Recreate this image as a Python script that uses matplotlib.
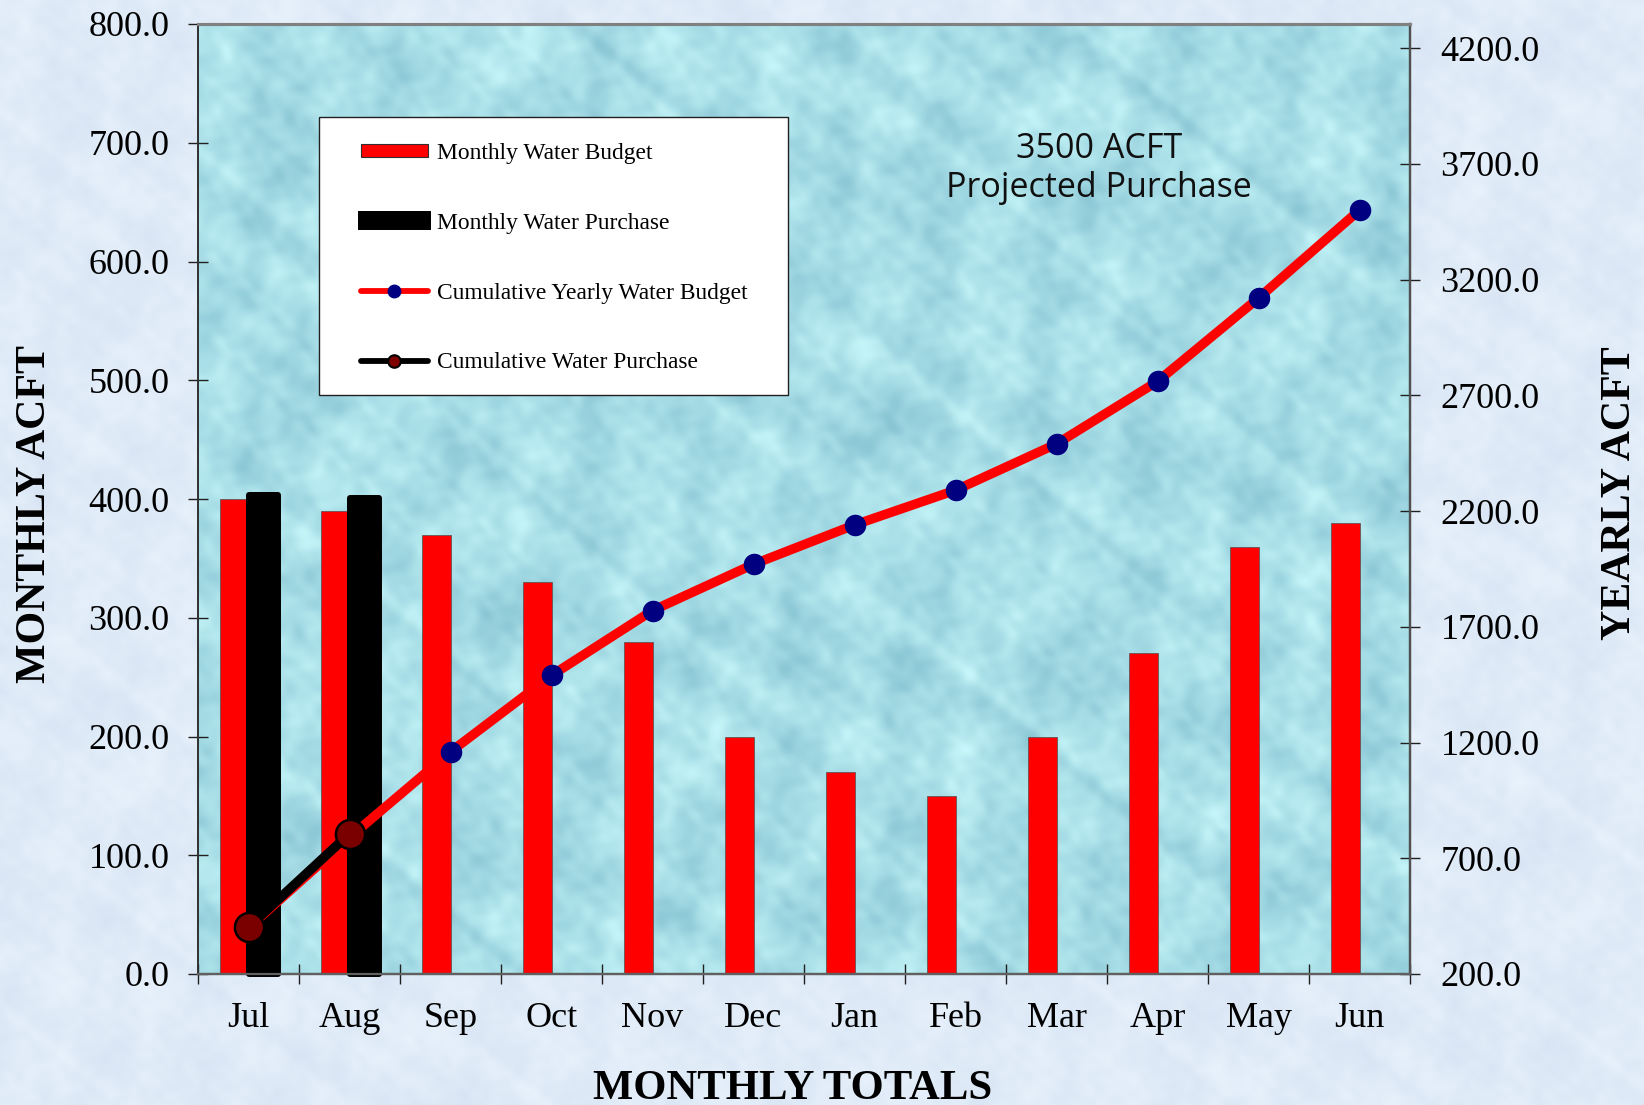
#!/usr/bin/env python3
"""Monthly and cumulative water budget vs purchase."""

import matplotlib
matplotlib.use("Agg")
import matplotlib.pyplot as plt
from matplotlib.lines import Line2D
from matplotlib.patches import Patch, Rectangle
import numpy as np

months = ["Jul", "Aug", "Sep", "Oct", "Nov", "Dec", "Jan", "Feb", "Mar", "Apr", "May", "Jun"]
monthly_budget = [400, 390, 370, 330, 280, 200, 170, 150, 200, 270, 360, 380]
monthly_purchase = [403, 401]
cumulative_budget = [400, 790, 1160, 1490, 1770, 1970, 2140, 2290, 2490, 2760, 3120, 3500]
cumulative_purchase = [403, 806]
left_ticks = [0, 100, 200, 300, 400, 500, 600, 700, 800]
right_ticks = [200, 700, 1200, 1700, 2200, 2700, 3200, 3700, 4200]
legend_labels = ["Monthly Water Budget", "Monthly Water Purchase",
                 "Cumulative Yearly Water Budget", "Cumulative Water Purchase"]

W, H = 1644, 1105
SERIF = "Liberation Serif"
TICK_SIZE = 26


def mottle(w, h, scale):
    # soft cloudy pattern for the backgrounds, just overlapping sines
    y, x = np.mgrid[0:h, 0:w] / scale
    m = np.zeros_like(x)
    for k, (fx, fy, ph, amp) in enumerate([(1.31, 0.47, 0.3, 1.0), (-0.83, 1.57, 1.9, 1.0),
                                           (2.71, 1.13, 4.1, 0.7), (1.73, -2.93, 2.2, 0.7),
                                           (4.37, 3.19, 0.9, 0.5), (-3.61, 5.23, 5.3, 0.5),
                                           (7.13, -2.39, 3.7, 0.35), (5.59, 7.91, 1.2, 0.35)]):
        m += amp * np.sin(fx * x + fy * y + ph + 1.5 * np.sin(0.37 * (k + 1) * (x - y)))
    return m / np.abs(m).max()


fig = plt.figure(figsize=(W / 100, H / 100), dpi=100)

# page background
bg = mottle(W, H, 26)[..., None]
page = np.array([224, 235, 248]) + bg * np.array([9, 8, 5])
fig.figimage(np.clip(page, 0, 255).astype(np.uint8), zorder=-10)

ax = fig.add_axes([198 / W, 1 - 974 / H, (1410 - 198) / W, (974 - 24) / H])
ax2 = ax.twinx()

water = mottle(1212, 950, 30)[..., None]
tex = np.array([168, 222, 231]) + water * np.array([32, 26, 20])
ax.imshow(np.clip(tex, 0, 255).astype(np.uint8), extent=(0, 12, 0, 800), aspect="auto", zorder=0)

x = np.arange(len(months)) + 0.5
bar_w = 29 / 101
ax.bar(x - bar_w / 2, monthly_budget, bar_w, color="#ff0000", edgecolor="#505050", linewidth=0.5, zorder=2)
ax.bar(x[:2] + bar_w / 2, monthly_purchase, bar_w, color="black", edgecolor="black",
       linewidth=4.3, joinstyle="round", zorder=3, clip_on=False)

ax.set_xlim(0, 12)
ax.set_ylim(0, 800)
ax.set_yticks(left_ticks)
ax.set_yticklabels(["%.1f" % t for t in left_ticks], fontsize=TICK_SIZE, family=SERIF)
ax.set_xticks(np.arange(13))
ax.set_xticklabels([])
ax.set_xticks(x, months, minor=True, fontsize=TICK_SIZE, family=SERIF)
ax.tick_params(axis="both", which="major", direction="inout", length=15, width=1, color="#202020")
ax.tick_params(axis="y", pad=13)
ax.tick_params(axis="x", which="minor", length=0, pad=20.5)

ax2.plot(x, cumulative_budget, color="#ff0000", lw=6.8, marker="o", ms=14.5,
         mfc="#000080", mec="#000080", zorder=5, solid_capstyle="round")
ax2.plot(x[:2], cumulative_purchase, color="black", lw=6.8, marker="o", ms=21,
         mfc="#7a0000", mec="black", mew=1.8, zorder=6, solid_capstyle="round")
ax2.set_ylim(200, 4304)
ax2.set_yticks(right_ticks)
ax2.set_yticklabels(["%.1f" % t for t in right_ticks], fontsize=TICK_SIZE, family=SERIF)
ax2.tick_params(axis="y", direction="inout", length=15, width=1, color="#202020", pad=14.5)

for a in (ax, ax2):
    a.spines["left"].set_color("#303030")
    a.spines["right"].set_color("#505050")
    a.spines["top"].set_color("#808080")
    a.spines["bottom"].set_color("#606060")
    a.spines["top"].set_linewidth(2.2)
    a.spines["bottom"].set_linewidth(1.6)
    a.spines["left"].set_linewidth(1.2)
    a.spines["right"].set_linewidth(1.6)

# legend box is placed by hand, the entries sit inside it with no frame
ax2.add_patch(Rectangle((319 / W, 1 - 395 / H), (788 - 319) / W, (395 - 117) / H,
                        transform=fig.transFigure, facecolor="white", edgecolor="#202020",
                        linewidth=1.0, zorder=8))
handles = [
    Patch(facecolor="#ff0000", edgecolor="#303030", linewidth=0.8),
    Patch(facecolor="black", edgecolor="black", linewidth=4.3, joinstyle="round"),
    Line2D([], [], color="#ff0000", lw=4.2, marker="o", ms=9, mfc="#000080", mec="#000080",
           solid_capstyle="round"),
    Line2D([], [], color="black", lw=4.2, marker="o", ms=9, mfc="#800000", mec="black", mew=1.5,
           solid_capstyle="round"),
]
leg = ax2.legend(handles, legend_labels, loc="upper left",
                 bbox_to_anchor=(361 / W, 1 - 143 / H),
                 bbox_transform=fig.transFigure,
                 prop={"family": SERIF, "size": 16.9}, frameon=False,
                 borderaxespad=0, borderpad=0, labelspacing=2.08,
                 handlelength=2.85, handletextpad=0.37, handleheight=0.5)
leg.set_zorder(9)

ax2.text(1099 / W, 1 - 149 / H, "3500 ACFT", transform=fig.transFigure, ha="center", va="center",
         fontsize=24.5, family="Open Sans", color="#101010", zorder=7)
ax2.text(1099 / W, 1 - 188 / H, "Projected Purchase", transform=fig.transFigure, ha="center", va="center",
         fontsize=24.5, family="Open Sans", color="#101010", zorder=7)

fig.text(35 / W, 1 - 514 / H, "MONTHLY ACFT", rotation=90, ha="center", va="center",
         fontsize=30.2, fontweight="bold", family=SERIF)
fig.text(1620 / W, 1 - 493 / H, "YEARLY ACFT", rotation=90, ha="center", va="center",
         fontsize=30.2, fontweight="bold", family=SERIF)
fig.text(793 / W, 1 - 1089 / H, "MONTHLY TOTALS", ha="center", va="center",
         fontsize=30.7, fontweight="bold", family=SERIF)

fig.savefig("out.png", dpi=100)
